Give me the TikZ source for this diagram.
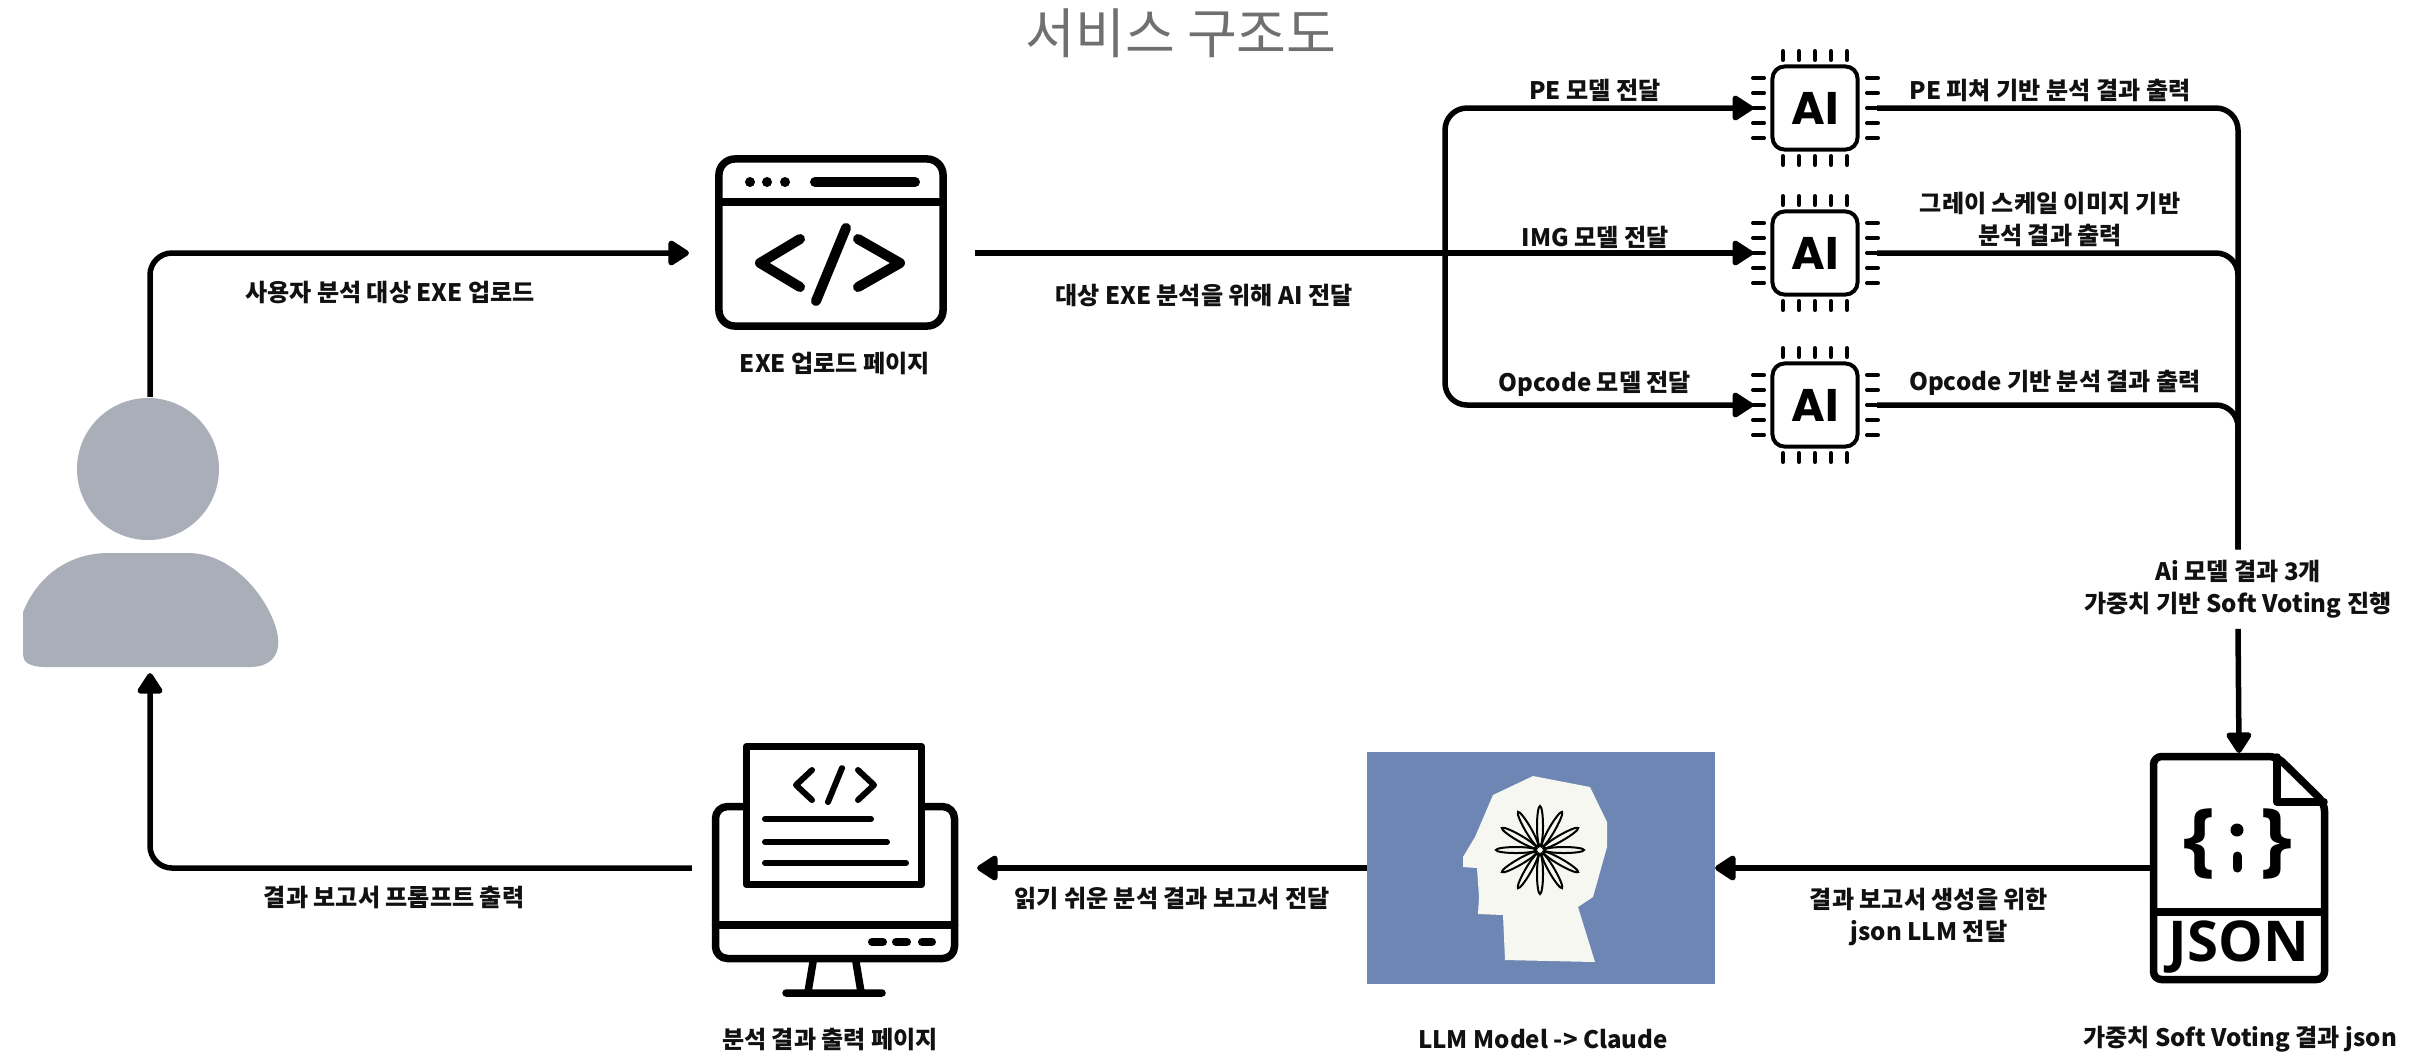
\documentclass[tikz,border=0pt]{standalone}
\usepackage{fontspec}
\usetikzlibrary{arrows.meta}
\newfontfamily\kr{Noto Sans CJK KR}
\newfontfamily\aifont{Poppins}
\newfontfamily\jsonfont{Open Sans}
\definecolor{persongray}{HTML}{A9AEB8}
\definecolor{llmblue}{HTML}{6D86B4}
\definecolor{headwhite}{HTML}{F7F7F2}
\definecolor{titlegray}{HTML}{707070}
\definecolor{ink}{HTML}{111111}

\begin{document}
\begin{tikzpicture}[x=0.01cm, y=-0.01cm]
        \tikzset{edge/.style = {line width=0.055cm, rounded corners=0.22cm, -{Triangle[length=0.23cm, width=0.28cm, round]}}}
        \tikzset{lbl/.style = {font=\kr\bfseries\fontsize{6.85pt}{9.1pt}\selectfont, text=ink, align=center, inner sep=0}}
        \tikzset{heading/.style = {font=\kr\fontsize{15.4pt}{16pt}\selectfont, text=titlegray, inner sep=0}}
        \tikzset{icon/.style = {line width=0.075cm, line cap=round, line join=round}}
        \tikzset{iconbox/.style = {inner sep=0, outer sep=0}}
        \tikzset{chip/.style = {draw, line width=0.04cm, rounded corners=0.12cm, minimum width=0.85cm, minimum height=0.83cm, inner sep=0, font=\aifont\bfseries\fontsize{13pt}{13pt}\selectfont}}
        \tikzset{leg/.style = {line width=0.04cm, line cap=round}}
        \useasboundingbox (0,0) rectangle (2424,1056);

        \node[heading] (title) at (1181,33) {서비스 구조도};

        % user
        \fill[persongray] (148,469) circle [radius=71];
        \fill[persongray] (23,655) -- (23,612) .. controls (38,575) and (70,553) .. (108,553) -- (188,553)
          .. controls (232,553) and (266,595) .. (276,628) .. controls (284,655) and (270,667) .. (250,667)
          -- (45,667) .. controls (30,667) and (23,662) .. (23,655) -- cycle;
        \node[iconbox, minimum width=2.54cm, minimum height=2.72cm] (user) at (150,533) {};

        % upload page
        \node[iconbox, draw, icon, rounded corners=0.16cm, minimum width=2.24cm, minimum height=1.67cm] (upload) at (831,242.5) {};
        \draw[icon] (719,202) -- (943,202);
        \fill (750,182) circle [radius=5] (767,182) circle [radius=5] (785,182) circle [radius=5];
        \draw[icon, line width=0.1cm] (815,182) -- (915,182);
        \draw[icon, line width=0.1cm] (800,239) -- (760,263) -- (800,287) (858,239) -- (900,263) -- (858,287) (846,228) -- (816,301);

        % AI models
        \foreach \y/\n in {108/pe, 253/img, 405/opc} {
          \node[chip] (\n) at (1815,\y) {AI};
          \foreach \d in {-32,-16,0,16,32}
            \draw[leg] (1815+\d,\y-57) -- ++(0,9) (1815+\d,\y+48) -- ++(0,9);
          \foreach \d in {-30,-15,0,15,30}
            \draw[leg] (1753,\y+\d) -- ++(11,0) (1867,\y+\d) -- ++(11,0);
        }
        \coordinate (split) at (1445,253);

        % json result
        \node[iconbox, minimum width=1.78cm, minimum height=2.3cm] (json) at (2239,868) {};
        \draw[icon, rounded corners=0.08cm] (2277,756.5) -- (2153.5,756.5) -- (2153.5,979.5) -- (2324.5,979.5) -- (2324.5,803) -- cycle;
        \draw[icon] (2277,757) -- (2277,802) -- (2324,802);
        \draw[icon] (2153.5,912) -- (2324.5,912);
        \node[iconbox, font=\jsonfont\bfseries\fontsize{23pt}{23pt}\selectfont] (lbrace) at (2199,844) {\{};
        \node[iconbox, font=\jsonfont\bfseries\fontsize{23pt}{23pt}\selectfont] (rbrace) at (2276,844) {\}};
        \fill (2237,830) circle [radius=6.5];
        \draw[icon, line width=0.09cm] (2237,856) -- (2237,868);
        \node[iconbox, font=\jsonfont\bfseries\fontsize{16pt}{16pt}\selectfont] (jsonword) at (2239,947) {JSON};

        % llm
        \node[iconbox, fill=llmblue, minimum width=3.48cm, minimum height=2.32cm] (llm) at (1541,868) {};
        \fill[headwhite] (1505,960) -- (1503,915) -- (1478,914) -- (1479,897) -- (1477,868) -- (1463,867)
          -- (1463,857) -- (1475,837) -- (1493,795) -- (1533,776) -- (1590,787) -- (1607,822)
          -- (1607,847) -- (1593,897) -- (1578,907) -- (1595,962) -- cycle;
        \foreach \a in {0,30,...,330}
          \draw[line width=0.02cm, fill=headwhite, rotate around={\a:(1540,850)}] (1564,850) ellipse [x radius=20, y radius=3];

        % result page
        \node[iconbox, minimum width=2.46cm, minimum height=2.5cm] (mon) at (835,868) {};
        \draw[icon, rounded corners=0.12cm] (715.5,806.5) rectangle (954.5,958.5);
        \filldraw[icon, fill=white] (746.5,746.5) rectangle (921.5,884.5);
        \draw[icon] (715.5,925) -- (954.5,925);
        \draw[icon, line width=0.08cm] (872,942) -- (883,942) (896,942) -- (907,942) (922,942) -- (932,942);
        \draw[icon] (813,962) -- (808,992) (856,962) -- (861,992) (786,993) -- (882,993);
        \draw[icon, line width=0.06cm] (812,770) -- (796,785) -- (812,800) (842,768) -- (828,802) (858,770) -- (874,785) -- (858,800);
        \draw[icon, line width=0.06cm] (765,819) -- (871,819) (765,842) -- (887,842) (765,863) -- (906,863);

        \node[lbl, fill=white, inner sep=0.1cm] (vote) at (2238,589) {Ai 모델 결과 3개\\가중치 기반 Soft Voting 진행};

        \draw[edge, shorten >=0.3cm] (user.north) |- (upload.west |- img.west);
        \draw[edge, shorten <=0.32cm, shorten >=0.175cm] (upload.east |- img.west) -- (img.west);
        \draw[edge, shorten >=0.175cm] (split) |- (pe.west);
        \draw[edge, shorten >=0.175cm] (split) |- (opc.west);
        \draw[edge, -, shorten <=0.175cm] (pe.east) -| (vote.north);
        \draw[edge, -, shorten <=0.175cm] (img.east) -| (vote.north);
        \draw[edge, -, shorten <=0.175cm] (opc.east) -| (vote.north);
        \draw[edge] (vote.south) -- (json.north);
        \draw[edge] (json.west) -- (llm.east);
        \draw[edge, shorten >=0.19cm] (llm.west) -- (mon.east);
        \draw[edge, shorten <=0.2cm, shorten >=0.04cm] (mon.west) -| (user.south);

        \node[lbl] (uptxt) at (390,292) {사용자 분석 대상 EXE 업로드};
        \node[lbl] (uploadtxt) at (835,363) {EXE 업로드 페이지};
        \node[lbl] (sendtxt) at (1204,295) {대상 EXE 분석을 위해 AI 전달};
        \node[lbl] (petxt) at (1595,90) {PE 모델 전달};
        \node[lbl] (imgtxt) at (1595,237) {IMG 모델 전달};
        \node[lbl] (opctxt) at (1595,384) {Opcode 모델 전달};
        \node[lbl] (peout) at (2050,90) {PE 피쳐 기반 분석 결과 출력};
        \node[lbl] (imgout) at (2050,219) {그레이 스케일 이미지 기반\\분석 결과 출력};
        \node[lbl] (opcout) at (2055,383) {Opcode 기반 분석 결과 출력};
        \node[lbl] (jsontxt) at (1929,917) {결과 보고서 생성을 위한\\json LLM 전달};
        \node[lbl] (reporttxt) at (1172,898) {읽기 쉬운 분석 결과 보고서 전달};
        \node[lbl] (prompttxt) at (394,897) {결과 보고서 프롬프트 출력};
        \node[lbl] (montxt) at (830,1039) {분석 결과 출력 페이지};
        \node[lbl] (llmtxt) at (1543,1039) {LLM Model -> Claude};
        \node[lbl] (votetxt) at (2240,1039) {가중치 Soft Voting 결과 json};
      \end{tikzpicture}
\end{document}
